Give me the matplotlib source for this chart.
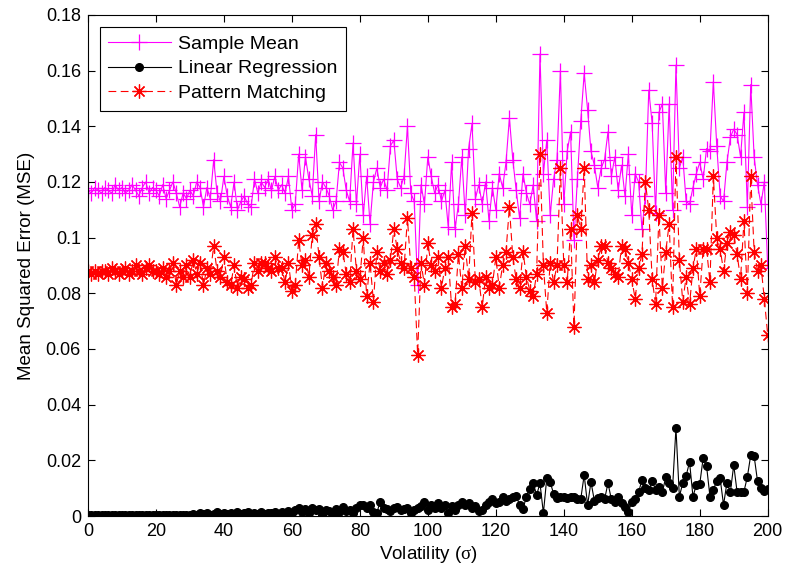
import numpy as np
import matplotlib
matplotlib.use("Agg")
import matplotlib.pyplot as plt

plt.rcParams['font.family'] = ['Liberation Sans', 'DejaVu Sans']
# upright serif sigma like the matlab symbol font
plt.rcParams['mathtext.fontset'] = 'custom'
plt.rcParams['mathtext.it'] = 'Liberation Serif'
plt.rcParams['mathtext.rm'] = 'Liberation Serif'

volatility = np.arange(0, 201)

sample_mean = [
    0.117, 0.116, 0.118, 0.117, 0.116, 0.118, 0.117, 0.116, 0.119, 0.117,
    0.118, 0.116, 0.117, 0.119, 0.117, 0.115, 0.118, 0.120, 0.116, 0.118,
    0.117, 0.115, 0.119, 0.114, 0.117, 0.120, 0.116, 0.111, 0.116, 0.114,
    0.117, 0.115, 0.120, 0.118, 0.111, 0.118, 0.114, 0.128, 0.116, 0.113,
    0.122, 0.115, 0.111, 0.120, 0.110, 0.113, 0.115, 0.112, 0.111, 0.121,
    0.116, 0.120, 0.118, 0.121, 0.117, 0.122, 0.117, 0.119, 0.116, 0.122,
    0.110, 0.112, 0.130, 0.117, 0.129, 0.121, 0.115, 0.137, 0.113, 0.120,
    0.118, 0.115, 0.110, 0.113, 0.127, 0.125, 0.117, 0.113, 0.134, 0.112,
    0.130, 0.108, 0.122, 0.105, 0.120, 0.125, 0.118, 0.121, 0.117, 0.133,
    0.135, 0.121, 0.118, 0.122, 0.140, 0.116, 0.113, 0.083, 0.119, 0.112,
    0.129, 0.122, 0.116, 0.119, 0.113, 0.117, 0.104, 0.127, 0.103, 0.112,
    0.129, 0.108, 0.132, 0.141, 0.114, 0.119, 0.112, 0.120, 0.106, 0.118,
    0.110, 0.123, 0.118, 0.127, 0.143, 0.128, 0.117, 0.107, 0.123, 0.116,
    0.112, 0.119, 0.106, 0.166, 0.123, 0.135, 0.108, 0.121, 0.128, 0.160,
    0.112, 0.131, 0.138, 0.099, 0.121, 0.142, 0.159, 0.146, 0.131, 0.126,
    0.118, 0.125, 0.128, 0.138, 0.122, 0.129, 0.117, 0.126, 0.115, 0.130,
    0.108, 0.123, 0.120, 0.103, 0.115, 0.153, 0.141, 0.109, 0.145, 0.148,
    0.116, 0.148, 0.110, 0.162, 0.125, 0.129, 0.113, 0.112, 0.118, 0.123,
    0.127, 0.121, 0.132, 0.131, 0.156, 0.133, 0.115, 0.113, 0.127, 0.136,
    0.139, 0.137, 0.129, 0.145, 0.111, 0.155, 0.129, 0.119, 0.112, 0.120,
    0.089,
]

linear_regression = [
    0.0003, 0.0003, 0.0003, 0.0003, 0.0003, 0.0003, 0.0003, 0.0003, 0.0003, 0.0003,
    0.0003, 0.0003, 0.0003, 0.0003, 0.0003, 0.0003, 0.0003, 0.0003, 0.0003, 0.0003,
    0.0003, 0.0004, 0.0003, 0.0003, 0.0004, 0.0003, 0.0003, 0.0004, 0.0003, 0.0004,
    0.0005, 0.0008, 0.0004, 0.0010, 0.0006, 0.0012, 0.0005, 0.0009, 0.0015, 0.0007,
    0.0010, 0.0006, 0.0012, 0.0008, 0.0013, 0.0006, 0.0010, 0.0015, 0.0008, 0.0011,
    0.0009, 0.0014, 0.0007, 0.0012, 0.0010, 0.0016, 0.0009, 0.0013, 0.0011, 0.0018,
    0.0012, 0.0020, 0.0028, 0.0015, 0.0024, 0.0012, 0.0030, 0.0020, 0.0026, 0.0005,
    0.0022, 0.0018, 0.0010, 0.0025, 0.0015, 0.0032, 0.0018, 0.0022, 0.0012, 0.0028,
    0.0040, 0.0040, 0.0028, 0.0038, 0.0015, 0.0012, 0.0052, 0.0030, 0.0025, 0.0018,
    0.0028, 0.0032, 0.0022, 0.0025, 0.0030, 0.0010, 0.0020, 0.0028, 0.0035, 0.0050,
    0.0022, 0.0040, 0.0030, 0.0045, 0.0028, 0.0038, 0.0012, 0.0035, 0.0020, 0.0038,
    0.0050, 0.0040, 0.0048, 0.0030, 0.0035, 0.0018, 0.0020, 0.0040, 0.0050, 0.0060,
    0.0045, 0.0050, 0.0070, 0.0055, 0.0060, 0.0070, 0.0072, 0.0040, 0.0025, 0.0070,
    0.0098, 0.0120, 0.0075, 0.0118, 0.0010, 0.0137, 0.0122, 0.0080, 0.0065, 0.0068,
    0.0068, 0.0065, 0.0068, 0.0068, 0.0060, 0.0062, 0.0147, 0.0040, 0.0122, 0.0055,
    0.0065, 0.0070, 0.0060, 0.0118, 0.0060, 0.0050, 0.0068, 0.0045, 0.0032, 0.0015,
    0.0050, 0.0060, 0.0085, 0.0130, 0.0100, 0.0095, 0.0125, 0.0095, 0.0105, 0.0085,
    0.0140, 0.0120, 0.0100, 0.0316, 0.0070, 0.0118, 0.0145, 0.0194, 0.0070, 0.0112,
    0.0115, 0.0208, 0.0180, 0.0070, 0.0095, 0.0125, 0.0135, 0.0040, 0.0120, 0.0085,
    0.0183, 0.0085, 0.0088, 0.0088, 0.0140, 0.0219, 0.0215, 0.0125, 0.0100, 0.0090,
    0.0098,
]

pattern_matching = [
    0.088, 0.087, 0.088, 0.087, 0.088, 0.088, 0.087, 0.089, 0.088, 0.087,
    0.088, 0.089, 0.087, 0.088, 0.090, 0.088, 0.087, 0.089, 0.090, 0.088,
    0.088, 0.087, 0.089, 0.086, 0.088, 0.091, 0.083, 0.088, 0.086, 0.090,
    0.086, 0.092, 0.087, 0.091, 0.083, 0.089, 0.087, 0.097, 0.088, 0.086,
    0.093, 0.084, 0.083, 0.090, 0.082, 0.086, 0.085, 0.082, 0.083, 0.091,
    0.088, 0.091, 0.091, 0.089, 0.088, 0.093, 0.089, 0.089, 0.084, 0.091,
    0.081, 0.083, 0.099, 0.090, 0.092, 0.086, 0.101, 0.105, 0.093, 0.082,
    0.091, 0.088, 0.086, 0.083, 0.096, 0.095, 0.087, 0.084, 0.103, 0.088,
    0.085, 0.100, 0.079, 0.091, 0.077, 0.095, 0.088, 0.091, 0.087, 0.092,
    0.103, 0.096, 0.091, 0.089, 0.107, 0.089, 0.086, 0.058, 0.091, 0.083,
    0.098, 0.090, 0.088, 0.093, 0.082, 0.089, 0.093, 0.075, 0.076, 0.094,
    0.082, 0.097, 0.085, 0.109, 0.084, 0.085, 0.075, 0.086, 0.082, 0.083,
    0.093, 0.082, 0.090, 0.095, 0.111, 0.093, 0.085, 0.082, 0.095, 0.086,
    0.081, 0.079, 0.087, 0.130, 0.090, 0.073, 0.091, 0.084, 0.090, 0.125,
    0.090, 0.084, 0.103, 0.068, 0.108, 0.103, 0.125, 0.085, 0.090, 0.084,
    0.092, 0.097, 0.097, 0.091, 0.089, 0.087, 0.086, 0.097, 0.096, 0.091,
    0.085, 0.078, 0.089, 0.094, 0.120, 0.110, 0.085, 0.076, 0.108, 0.082,
    0.095, 0.105, 0.075, 0.129, 0.092, 0.077, 0.086, 0.076, 0.089, 0.096,
    0.079, 0.096, 0.096, 0.084, 0.122, 0.100, 0.096, 0.088, 0.098, 0.102,
    0.101, 0.094, 0.085, 0.106, 0.080, 0.122, 0.095, 0.088, 0.090, 0.078,
    0.065,
]

x_ticks = np.arange(0, 201, 20)
y_ticks = [0, 0.02, 0.04, 0.06, 0.08, 0.1, 0.12, 0.14, 0.16, 0.18]
y_tick_labels = ['0', '0.02', '0.04', '0.06', '0.08', '0.1', '0.12', '0.14', '0.16', '0.18']

fig = plt.figure(figsize=(7.85, 5.74), dpi=100)
ax = fig.add_axes([0.112, 0.101, 0.866, 0.873])

ax.plot(volatility, sample_mean, color='#ff00ff', linestyle='-', linewidth=0.8,
        marker='+', markersize=11, markeredgewidth=0.9, label='Sample Mean')
ax.plot(volatility, linear_regression, color='black', linestyle='-', linewidth=0.8,
        marker='o', markersize=5.5, label='Linear Regression')
# matlab style '*' marker: 8 spokes, dashed line
ax.plot(volatility, pattern_matching, color='red', linestyle=(0, (7, 4)), linewidth=0.8,
        marker=(8, 2, 0), markersize=10, markeredgewidth=0.9, label='Pattern Matching')

ax.set_xlim(0, 200)
ax.set_ylim(0, 0.18)
ax.set_xticks(x_ticks)
ax.set_yticks(y_ticks)
ax.set_yticklabels(y_tick_labels)
ax.tick_params(direction='in', top=True, right=True, labelsize=13, length=5, pad=5)
for s in ax.spines.values():
    s.set_linewidth(0.8)

ax.set_xlabel(r'Volatility ($\sigma$)', fontsize=13.5, labelpad=3)
ax.set_ylabel('Mean Squared Error (MSE)', fontsize=13.5, labelpad=8)

leg = ax.legend(loc='upper left', fontsize=14, fancybox=False, framealpha=1,
                edgecolor='black', handlelength=3.2, handletextpad=0.4,
                labelspacing=0.35, borderpad=0.45, borderaxespad=0.6)
leg.get_frame().set_linewidth(0.8)

fig.savefig('out.png', dpi=100)
